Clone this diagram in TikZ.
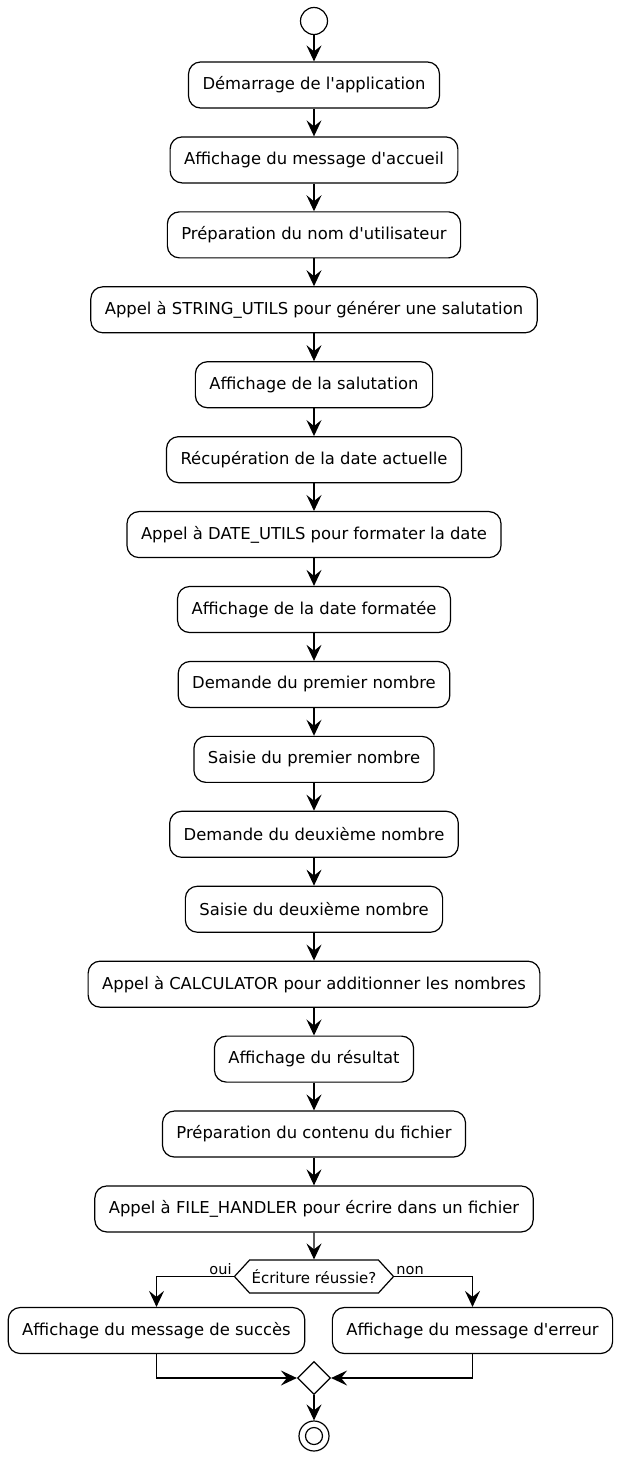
\documentclass[tikz,border=0pt]{standalone}
\usepackage{fontspec}
\setmainfont{DejaVu Sans}
\usetikzlibrary{arrows.meta,shapes.geometric,shapes.symbols}

\tikzset{
	activity/.style={draw, fill=white, rounded corners=12pt, minimum height=46pt, inner xsep=14pt, font=\fontsize{16.4}{19}\selectfont},
	decision/.style={draw, fill=white, shape=signal, signal to=west and east, signal pointer angle=95, minimum width=158pt, minimum height=33pt, inner xsep=2pt, inner ysep=0pt, font=\fontsize{15}{18}\selectfont},
	merger/.style={draw, fill=white, shape=diamond, minimum width=33pt, minimum height=33pt, inner sep=0pt},
	branchlabel/.style={font=\fontsize{14.5}{17}\selectfont, inner sep=1.5pt},
	arr/.style={-{Stealth[length=16pt, width=15pt, inset=6pt]}}
}

\begin{document}
\begin{tikzpicture}[x=1pt, y=1pt, line width=1.2pt]
			\useasboundingbox (0,0) rectangle (618,-1459);
			\node[draw, circle, minimum size=27pt, inner sep=0pt] (start) at (314,-21) {};
			\foreach \txt [count=\i] in {D\'emarrage de l\textquotesingle application,
				Affichage du message d\textquotesingle accueil,
				Pr\'eparation du nom d\textquotesingle utilisateur,
				Appel \`a STRING\_UTILS pour g\'en\'erer une salutation,
				Affichage de la salutation,
				R\'ecup\'eration de la date actuelle,
				Appel \`a DATE\_UTILS pour formater la date,
				Affichage de la date format\'ee,
				Demande du premier nombre,
				Saisie du premier nombre,
				Demande du deuxi\`eme nombre,
				Saisie du deuxi\`eme nombre,
				Appel \`a CALCULATOR pour additionner les nombres,
				Affichage du r\'esultat,
				Pr\'eparation du contenu du fichier,
				Appel \`a FILE\_HANDLER pour \'ecrire dans un fichier}{
				\node[activity] (b\i) at (314,{-85-74.93*(\i-1)}) {\txt};}
			\draw[arr] (start) -- (b1);
			\foreach \j [count=\i] in {2,...,16}{
				\draw[arr] (b\i) -- (b\j);}
			
			\node[decision] (check) at (314,-1276.5) {\'Ecriture r\'eussie?};
			\draw[arr] (b16) -- (check);
			\node[activity] (ok) at (156.5,-1330.5) {Affichage du message de succ\`es};
			\node[activity] (fail) at (472.5,-1330.5) {Affichage du message d\textquotesingle erreur};
			\draw[arr] (check.west) -| node[pos=0, anchor=south east, branchlabel] {oui} (ok.north);
			\draw[arr] (check.east) -| node[pos=0, anchor=south west, branchlabel] {non} (fail.north);
			
			\node[merger] (merge) at (314,-1378) {};
			\draw[arr] (ok.south) |- (merge.west);
			\draw[arr] (fail.south) |- (merge.east);
			\node[draw, circle, minimum size=30pt, inner sep=0pt] (stop) at (314,-1436) {};
			\node[draw, circle, minimum size=17pt, inner sep=0pt] (stopdot) at (stop) {};
			\draw[arr] (merge) -- (stop);
			
		\end{tikzpicture}
\end{document}
